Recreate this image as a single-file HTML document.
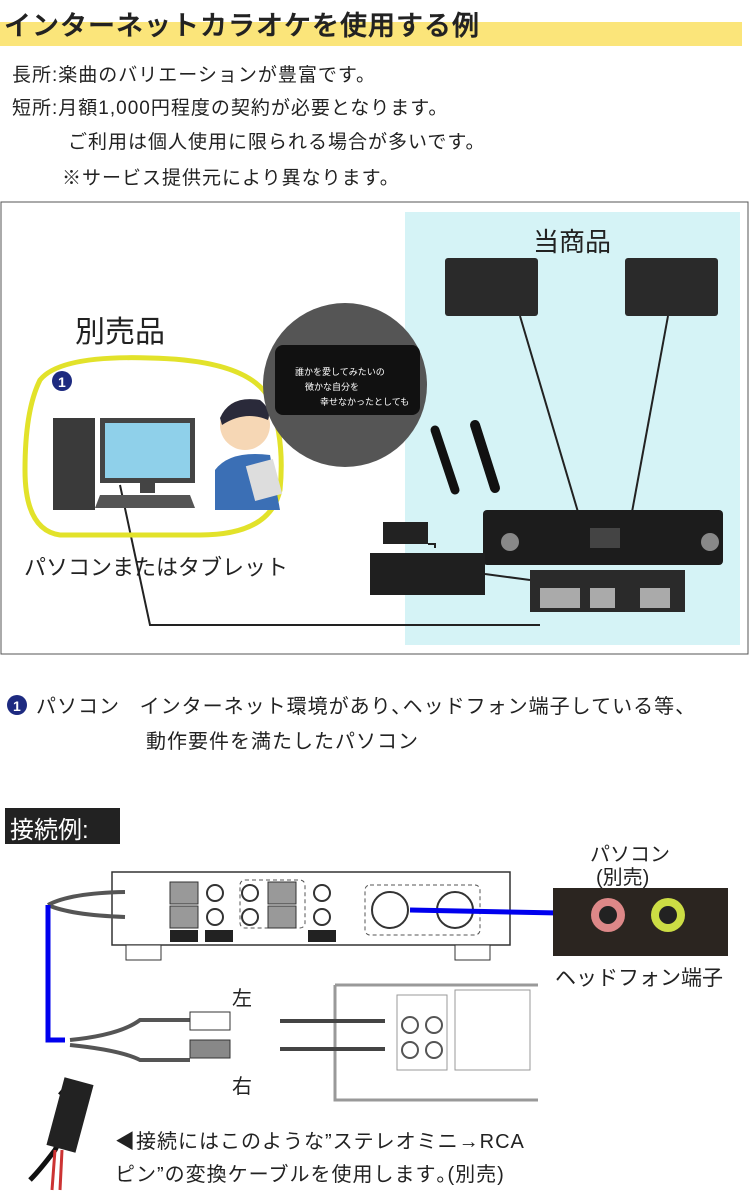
<!DOCTYPE html>
<html><head><meta charset="utf-8"><style>
body{margin:0;width:750px;height:1200px;background:#fff;position:relative;overflow:hidden;font-family:"Liberation Sans","Noto Sans CJK JP",sans-serif;color:#222}
.t{position:absolute;white-space:nowrap}
</style></head><body>
<div style="position:absolute;left:0;top:22px;width:742px;height:24px;background:#fbe57a"></div>
<div class="t" style="left:4px;top:4px;font-size:27px;letter-spacing:1px;font-weight:500;-webkit-text-stroke:0.5px #222">インターネットカラオケを使用する例</div>
<div class="t" style="left:12px;top:60px;font-size:19px;letter-spacing:1px">長所:楽曲のバリエーションが豊富です。</div>
<div class="t" style="left:12px;top:93px;font-size:19px;letter-spacing:1px">短所:月額1,000円程度の契約が必要となります。</div>
<div class="t" style="left:68px;top:127px;font-size:19px;letter-spacing:1px">ご利用は個人使用に限られる場合が多いです。</div>
<div class="t" style="left:62px;top:163px;font-size:19px;letter-spacing:1px">※サービス提供元により異なります。</div>

<svg style="position:absolute;left:0;top:0" width="750" height="1200">
<rect x="1" y="202" width="747" height="452" fill="none" stroke="#555" stroke-width="1"/>
<rect x="405" y="212" width="335" height="433" fill="#d5f3f6"/>
<rect x="445" y="258" width="93" height="58" rx="3" fill="#2a2a2a"/>
<rect x="625" y="258" width="93" height="58" rx="3" fill="#2a2a2a"/>
<line x1="520" y1="316" x2="578" y2="512" stroke="#222" stroke-width="2"/>
<line x1="668" y1="316" x2="632" y2="512" stroke="#222" stroke-width="2"/>
<line x1="435" y1="430" x2="455" y2="490" stroke="#111" stroke-width="9" stroke-linecap="round"/>
<line x1="475" y1="425" x2="495" y2="488" stroke="#111" stroke-width="10" stroke-linecap="round"/>
<rect x="483" y="510" width="240" height="55" rx="4" fill="#1c1c1c"/>
<circle cx="510" cy="542" r="9" fill="#888"/><circle cx="710" cy="542" r="9" fill="#888"/>
<rect x="590" y="528" width="30" height="20" fill="#444"/>
<rect x="383" y="522" width="45" height="22" fill="#222"/>
<rect x="370" y="553" width="115" height="42" fill="#1f1f1f"/>
<rect x="530" y="570" width="155" height="42" fill="#2a2a2a"/>
<rect x="540" y="588" width="40" height="20" fill="#aaa"/>
<rect x="590" y="588" width="25" height="20" fill="#aaa"/>
<rect x="640" y="588" width="30" height="20" fill="#aaa"/>
<path d="M428 544 L435 544 L435 548" fill="none" stroke="#222" stroke-width="2"/>
<path d="M485 574 L530 580" stroke="#222" stroke-width="2"/>
<path d="M120 485 L150 625 L540 625" fill="none" stroke="#222" stroke-width="2"/>
<path d="M40 380 Q60 355 150 358 Q250 360 270 400 Q285 440 280 490 Q270 535 200 535 L60 535 Q25 530 25 470 Q25 410 40 380Z" fill="none" stroke="#e2e22a" stroke-width="5"/>
<rect x="53" y="418" width="42" height="92" fill="#3a3a3a"/>
<rect x="100" y="418" width="95" height="65" fill="#444"/><rect x="105" y="423" width="85" height="55" fill="#8fd0ea"/>
<rect x="140" y="483" width="15" height="10" fill="#444"/>
<path d="M100 495 L190 495 L195 508 L95 508Z" fill="#555"/>
<circle cx="245" cy="425" r="25" fill="#f6d7b5"/>
<path d="M220 418 Q230 395 260 400 Q272 410 268 420 Q245 410 222 425Z" fill="#2a2a3a"/>
<path d="M215 510 L215 470 Q230 450 270 455 L280 510Z" fill="#3b6fb5"/>
<rect x="250" y="462" width="28" height="36" fill="#ddd" transform="rotate(-15 264 480)"/>
<circle cx="345" cy="385" r="82" fill="#555"/>
<rect x="275" y="345" width="145" height="70" rx="8" fill="#111"/>
<text x="295" y="375" font-size="9" fill="#fff" font-family="Noto Sans CJK JP">誰かを愛してみたいの</text>
<text x="305" y="390" font-size="9" fill="#fff" font-family="Noto Sans CJK JP">微かな自分を</text>
<text x="320" y="405" font-size="9" fill="#fff" font-family="Noto Sans CJK JP">幸せなかったとしても</text>
<circle cx="62" cy="381" r="10" fill="#1d2a80"/><text x="58" y="387" font-size="14" fill="#fff" font-weight="bold">1</text>
<circle cx="17" cy="705" r="10" fill="#1d2a80"/><text x="13" y="711" font-size="14" fill="#fff" font-weight="bold">1</text>

<rect x="5" y="808" width="115" height="36" fill="#222"/>
<path d="M112 872 L510 872 L510 945 L112 945Z" fill="#fff" stroke="#333" stroke-width="1.5"/>
<rect x="126" y="945" width="35" height="15" fill="#fff" stroke="#333"/><rect x="455" y="945" width="35" height="15" fill="#fff" stroke="#333"/>
<rect x="240" y="880" width="65" height="48" rx="5" fill="none" stroke="#555" stroke-dasharray="4 3"/>
<rect x="365" y="885" width="115" height="50" rx="5" fill="none" stroke="#555" stroke-dasharray="4 3"/>
<circle cx="390" cy="910" r="18" fill="none" stroke="#333" stroke-width="2"/><circle cx="455" cy="910" r="18" fill="none" stroke="#333" stroke-width="2"/>
<g fill="#999" stroke="#333"><rect x="170" y="882" width="28" height="22"/><rect x="170" y="906" width="28" height="22"/><rect x="268" y="882" width="28" height="22"/><rect x="268" y="906" width="28" height="22"/></g>
<g fill="none" stroke="#333" stroke-width="2"><circle cx="215" cy="893" r="8"/><circle cx="215" cy="917" r="8"/><circle cx="250" cy="893" r="8"/><circle cx="250" cy="917" r="8"/><circle cx="322" cy="893" r="8"/><circle cx="322" cy="917" r="8"/></g>
<g fill="#222"><rect x="170" y="930" width="28" height="12"/><rect x="205" y="930" width="28" height="12"/><rect x="308" y="930" width="28" height="12"/></g>
<path d="M48 905 Q70 893 125 892 M48 905 Q70 915 125 917" fill="none" stroke="#555" stroke-width="4"/>
<path d="M48 905 L48 1040 L65 1040" fill="none" stroke="#0000ee" stroke-width="5"/>
<path d="M410 910 L660 915" stroke="#0000ee" stroke-width="5"/>
<rect x="553" y="888" width="175" height="68" fill="#2b2520"/>
<circle cx="608" cy="915" r="17" fill="#d88"/><circle cx="608" cy="915" r="9" fill="#222"/>
<circle cx="668" cy="915" r="17" fill="#cd4"/><circle cx="668" cy="915" r="9" fill="#222"/>
<path d="M335 985 L538 985 M335 985 L335 1100 L538 1100" fill="none" stroke="#999" stroke-width="3"/>
<rect x="397" y="995" width="50" height="75" fill="#fff" stroke="#999"/>
<rect x="455" y="990" width="75" height="80" fill="#fff" stroke="#999"/>
<circle cx="410" cy="1025" r="8" fill="none" stroke="#555" stroke-width="2"/><circle cx="434" cy="1025" r="8" fill="none" stroke="#555" stroke-width="2"/>
<circle cx="410" cy="1050" r="8" fill="none" stroke="#555" stroke-width="2"/><circle cx="434" cy="1050" r="8" fill="none" stroke="#555" stroke-width="2"/>
<path d="M70 1040 Q120 1035 140 1020 L190 1020 M70 1045 Q120 1050 140 1060 L190 1060" fill="none" stroke="#555" stroke-width="4"/>
<rect x="190" y="1012" width="40" height="18" fill="#fff" stroke="#333"/>
<rect x="190" y="1040" width="40" height="18" fill="#888" stroke="#333"/>
<line x1="280" y1="1021" x2="385" y2="1021" stroke="#444" stroke-width="4"/>
<line x1="280" y1="1049" x2="385" y2="1049" stroke="#444" stroke-width="4"/>
<path d="M60 1095 Q80 1070 75 1110 L55 1150 Q40 1170 30 1180" fill="none" stroke="#111" stroke-width="5"/>
<path d="M55 1150 L52 1190 M62 1150 L60 1190" stroke="#c33" stroke-width="3"/>
<rect x="55" y="1080" width="30" height="70" fill="#222" transform="rotate(15 70 1115)"/>
</svg>

<div class="t" style="left:533px;top:222px;font-size:26px">当商品</div>
<div class="t" style="left:75px;top:307px;font-size:30px">別売品</div>
<div class="t" style="left:24px;top:550px;font-size:22px">パソコンまたはタブレット</div>
<div class="t" style="left:36px;top:690px;font-size:20px;letter-spacing:1px">パソコン&nbsp;&nbsp;&nbsp;インターネット環境があり､ヘッドフォン端子している等、</div>
<div class="t" style="left:146px;top:725px;font-size:20px;letter-spacing:1px">動作要件を満たしたパソコン</div>
<div class="t" style="left:10px;top:810px;font-size:24px;color:#fff">接続例:</div>
<div class="t" style="left:590px;top:838px;font-size:20px">パソコン</div>
<div class="t" style="left:596px;top:861px;font-size:20px">(別売)</div>
<div class="t" style="left:555px;top:962px;font-size:21px">ヘッドフォン端子</div>
<div class="t" style="left:232px;top:982px;font-size:20px">左</div>
<div class="t" style="left:232px;top:1070px;font-size:20px">右</div>
<div class="t" style="left:115px;top:1125px;font-size:20px;letter-spacing:1px">◀接続にはこのような”ステレオミニ→RCA</div>
<div class="t" style="left:115px;top:1158px;font-size:20px;letter-spacing:1px">ピン”の変換ケーブルを使用します｡(別売)</div>
</body></html>
